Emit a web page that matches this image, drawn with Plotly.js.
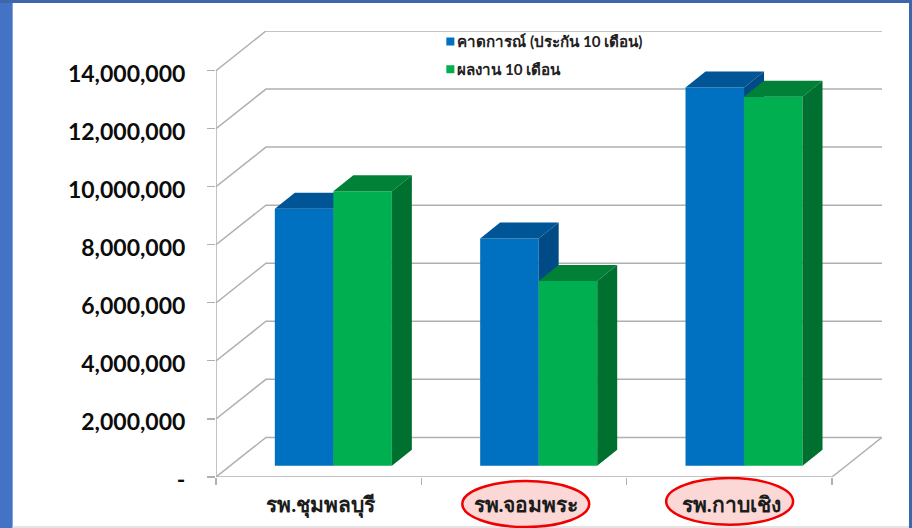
<!DOCTYPE html>
<html><head><meta charset="utf-8">
<script src="https://cdn.plot.ly/plotly-3.0.0.min.js"></script>
<style>html,body{margin:0;padding:0;background:#fff;overflow:hidden}#chart{width:912px;height:528px}</style>
</head><body><div id="chart"></div>
<script>
// ---- data ----
const categories = ['รพ.ชุมพลบุรี', 'รพ.จอมพระ', 'รพ.กาบเชิง'];
const forecastName = 'คาดการณ์ (ประกัน 10 เดือน)';
const actualName = 'ผลงาน 10 เดือน';
const forecastValues = [8850000, 7830000, 13030000];
const actualValues = [9450000, 6360000, 12710000];
const tickValues = [0, 2000000, 4000000, 6000000, 8000000, 10000000, 12000000, 14000000];
const tickLabels = ['-', '2,000,000', '4,000,000', '6,000,000', '8,000,000', '10,000,000', '12,000,000', '14,000,000'];
const circledCategories = [1, 2];

// ---- 3-D projection, in axis units ----
const wallDX = 0.2434, wallDY = 1365000;   // depth of the whole box
const barDX = 0.0973, barDY = 552000;      // depth of one bar
const barLiftX = 0.0715, barLift = 390000; // how far bars stand back from the front edge
const barW = 0.285;
const xRange = [-0.5, categories.length - 0.5 + wallDX];
const yRange = [0, 14000000 + wallDY];

const GRID = '#b0b0b0';
const traces = [];
// walls and floor
tickValues.forEach(v => traces.push({
  type: 'scatter', mode: 'lines', hoverinfo: 'skip', showlegend: false,
  x: [xRange[0], xRange[0] + wallDX, xRange[1]], y: [v, v + wallDY, v + wallDY],
  line: {color: GRID, width: 1.5}
}));
traces.push({type: 'scatter', mode: 'lines', hoverinfo: 'skip', showlegend: false,
  x: [xRange[0], xRange[0], xRange[1] - wallDX, xRange[1]],
  y: [14000000, 0, 0, wallDY], line: {color: GRID, width: 1.5}});

function series(values, name, side, front, topC, sideC, n) {
  const xs = categories.map((_, i) => i + barLiftX + side * barW / 2);
  const xa = 'x' + (n + 2), ya = 'y' + (n + 2);
  traces.push({type: 'bar', name, legendgroup: name, x: xs, y: values,
    base: values.map(() => barLift), width: barW, xaxis: xa, yaxis: ya,
    marker: {color: front, line: {width: 0}}});
  values.forEach((v, i) => {
    const l = xs[i] - barW / 2, r = xs[i] + barW / 2, t = v + barLift;
    traces.push({type: 'scatter', mode: 'lines', fill: 'toself', fillcolor: topC, showlegend: false, hoverinfo: 'skip',
      xaxis: xa, yaxis: ya, line: {width: 0, color: topC},
      x: [l, r, r + barDX, l + barDX, l], y: [t, t, t + barDY, t + barDY, t]});
    traces.push({type: 'scatter', mode: 'lines', fill: 'toself', fillcolor: sideC, showlegend: false, hoverinfo: 'skip',
      xaxis: xa, yaxis: ya, line: {width: 0, color: sideC},
      x: [r, r + barDX, r + barDX, r, r], y: [t, t + barDY, barLift + barDY, barLift, t]});
  });
}
series(forecastValues, forecastName, -1, '#0070c0', '#005596', '#004b85', 0);
series(actualValues, actualName, 1, '#00b050', '#008137', '#007030', 1);

// ---- page-pixel helpers for decoration ----
const L = 215.5, R = 882, B = 477, T = 30.9;
const px = x => (x - L) / (R - L), py = y => (B - y) / (B - T);
const overlayAxis = {visible: false, fixedrange: true};
const ellipses = [[462, 589, 481, 527], [666, 793, 478, 524.7]];
const shapes = [
  {type: 'rect', layer: 'below', xref: 'paper', yref: 'paper', x0: px(-5), x1: px(12), y0: py(-5), y1: py(533), fillcolor: '#4472c4', line: {width: 0}},
  {type: 'rect', layer: 'below', xref: 'paper', yref: 'paper', x0: px(-5), x1: px(917), y0: py(-5), y1: py(3), fillcolor: '#3d66ad', line: {width: 0}},
  {type: 'rect', layer: 'below', xref: 'paper', yref: 'paper', x0: px(909), x1: px(917), y0: py(-5), y1: py(533), fillcolor: '#3d66ad', line: {width: 0}},
  {type: 'rect', layer: 'below', xref: 'paper', yref: 'paper', x0: px(12), x1: px(909), y0: py(526), y1: py(533), fillcolor: '#e4e4e4', line: {width: 0}}
];
circledCategories.forEach((c, i) => {
  const e = ellipses[i];
  shapes.push({type: 'circle', layer: 'below', xref: 'paper', yref: 'paper',
    x0: px(e[0]), x1: px(e[1]), y0: py(e[3]), y1: py(e[2]),
    fillcolor: '#fbd8d6', line: {color: '#f00000', width: 2.5}});
});

const layout = {
  width: 912, height: 528, paper_bgcolor: '#fff', plot_bgcolor: 'rgba(0,0,0,0)',
  margin: {l: L, r: 912 - R, t: T, b: 528 - B, pad: 0},
  barmode: 'overlay', showlegend: true, hovermode: false,
  font: {family: 'Lato, "Noto Sans", sans-serif', color: '#111'},
  xaxis: {range: xRange, tickmode: 'array', tickvals: categories.map((_, i) => i), ticktext: categories,
    ticks: '', showgrid: false, zeroline: false, showline: false, fixedrange: true, automargin: false,
    tickfont: {size: 21, weight: 700, color: '#1c1c1c'}, ticklabelstandoff: 13, ticklabelshift: 2,
    minor: {tickmode: 'array', tickvals: [-0.5, 0.5, 1.5, 2.5], ticks: 'outside', ticklen: 7, tickwidth: 1.2, tickcolor: GRID, showgrid: false}},
  yaxis: {range: yRange, tickmode: 'array', tickvals: tickValues, ticktext: tickLabels,
    ticks: 'outside', ticklen: 8, tickwidth: 1.2, tickcolor: GRID, showgrid: false, zeroline: false, showline: false,
    fixedrange: true, automargin: false, tickfont: {size: 23, weight: 700, color: '#0c0c0c'}, ticklabelstandoff: 17, ticklabelshift: 3},
  xaxis2: Object.assign({range: xRange, overlaying: 'x'}, overlayAxis),
  yaxis2: Object.assign({range: yRange, overlaying: 'y'}, overlayAxis),
  xaxis3: Object.assign({range: xRange, overlaying: 'x', anchor: 'y3'}, overlayAxis),
  yaxis3: Object.assign({range: yRange, overlaying: 'y', anchor: 'x3'}, overlayAxis),
  legend: {x: px(417), y: py(25), xanchor: 'left', yanchor: 'top', bgcolor: 'rgba(0,0,0,0)', borderwidth: 0,
    traceorder: 'grouped', tracegroupgap: 5, font: {size: 15.2, weight: 700, color: '#222'}},
  shapes
};
const gd = document.getElementById('chart');
function tuneLegendSwatches() {
  gd.querySelectorAll('.legend g.legendpoints path').forEach(p => {
    p.style.transform = 'translate(33px, 0px) scale(0.67)';
    p.setAttribute('transform', 'translate(33,0) scale(0.67)');
  });
}
Plotly.newPlot(gd, traces, layout, {displayModeBar: false, staticPlot: true}).then(() => {
  tuneLegendSwatches();
  gd.on('plotly_afterplot', tuneLegendSwatches);
  requestAnimationFrame(tuneLegendSwatches);
});
</script></body></html>
